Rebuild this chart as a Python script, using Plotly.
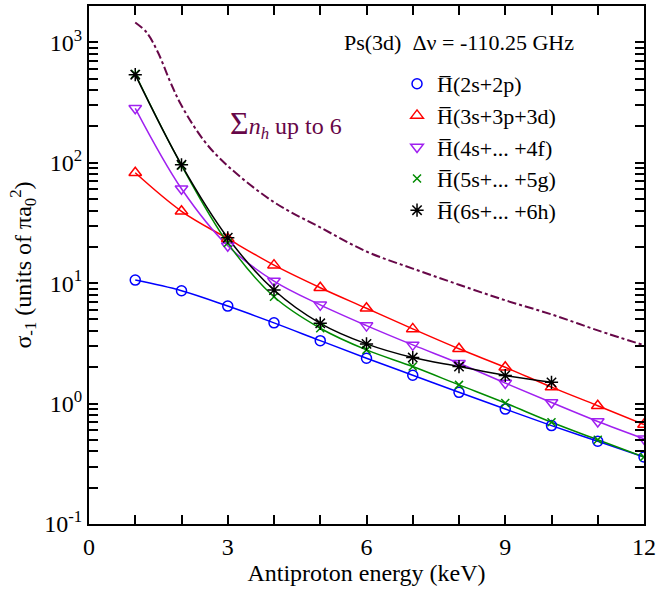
import plotly.graph_objects as go

# ---- data ----
energy = [1, 2, 3, 4, 5, 6, 7, 8, 9, 10, 11, 12]
energy_6h = [1, 2, 3, 4, 5, 6, 7, 8, 9, 10]

h2 = [10.6, 8.65, 6.45, 4.68, 3.33, 2.38, 1.72, 1.24, 0.90, 0.656, 0.486, 0.36]
h3 = [82.4, 39.5, 23.4, 14.1, 9.16, 6.18, 4.17, 2.85, 2.0, 1.37, 0.96, 0.67]
h4 = [283, 60.8, 20.4, 10.4, 6.6, 4.44, 3.07, 2.16, 1.48, 1.02, 0.71, 0.51]
h5 = [545, 95, 21.5, 7.7, 4.22, 2.79, 2.03, 1.43, 1.01, 0.70, 0.50, 0.36]
h6 = [538, 96, 23.8, 8.77, 4.64, 3.13, 2.41, 2.03, 1.71, 1.50]

sum_energy = [1, 1.25, 1.5, 1.75, 2, 2.5, 3, 4, 5, 6, 7, 8, 9, 10, 11, 12]
sum_nh = [1460, 1200, 810, 475, 298, 150, 94, 47, 29, 18.3, 13.2, 9.7, 7.2, 5.5, 4.05, 3.05]

names = ["(2s+2p)", "(3s+3p+3d)", "(4s+... +4f)", "(5s+... +5g)", "(6s+... +6h)"]
colors = ["#0000ff", "#ff0000", "#a020f0", "#008b00", "#000000"]
symbols = ["circle-open", "triangle-up-open", "triangle-down-open", "x-thin-open", "asterisk-open"]
msizes = [10, 11, 11, 8, 11]

# tick positions (labels only on the major ones)
x_ticks = [0, 1, 2, 3, 4, 5, 6, 7, 8, 9, 10, 11, 12]
x_ticktext = ["0", "", "", "3", "", "", "6", "", "", "9", "", "", "12"]
y_major = {0.1: "10<sup>-1</sup>", 1: "10<sup>0</sup>", 10: "10<sup>1</sup>",
           100: "10<sup>2</sup>", 1000: "10<sup>3</sup>"}
y_ticks = [k * 10.0 ** e for e in range(-1, 4) for k in range(1, 10) if k * 10.0 ** e <= 2000]
y_ticktext = [y_major.get(round(v, 6), "") for v in y_ticks]

FONT = "Liberation Serif"
MAROON = "#670748"

fig = go.Figure()

series = [(energy, h2), (energy, h3), (energy, h4), (energy, h5), (energy_6h, h6)]
# lines
for (xs, ys), c in zip(series, colors):
    fig.add_trace(go.Scatter(
        x=xs, y=ys, mode="lines", showlegend=False, hoverinfo="skip",
        line=dict(color=c, width=1.5, shape="spline", smoothing=1.0),
    ))

fig.add_trace(go.Scatter(
    x=sum_energy, y=sum_nh, mode="lines", showlegend=False,
    line=dict(color=MAROON, width=2, dash="dashdot", shape="spline"),
))

# markers (these also form the legend, markers only as in the reference)
for (xs, ys), n, c, s, ms in zip(series, names, colors, symbols, msizes):
    fig.add_trace(go.Scatter(
        x=xs, y=ys, mode="markers", name="H\u0305" + n,
        marker=dict(symbol=s, size=ms, color=c, line=dict(color=c, width=1.5)),
    ))

fig.update_xaxes(
    range=[0, 12], tickmode="array", tickvals=x_ticks, ticktext=x_ticktext,
    showline=True, linecolor="black", linewidth=2, mirror="ticks",
    ticks="inside", ticklen=9, tickwidth=2, tickcolor="black",
    showgrid=False, zeroline=False,
    tickfont=dict(family=FONT, size=24, color="black"),
    title=dict(text="Antiproton energy (keV)", font=dict(family=FONT, size=24, color="black"), standoff=2),
)
fig.update_yaxes(
    type="log", range=[-1, 3.301], tickmode="array", tickvals=y_ticks, ticktext=y_ticktext,
    showline=True, linecolor="black", linewidth=2, mirror="ticks",
    ticks="inside", ticklen=9, tickwidth=2, tickcolor="black",
    showgrid=False, zeroline=False,
    tickfont=dict(family=FONT, size=24, color="black"),
    title=dict(text="σ<sub>-1</sub> (units of πa<sub>0</sub><sup>2</sup>)",
               font=dict(family=FONT, size=24, color="black"), standoff=6),
)

fig.add_annotation(
    xref="paper", yref="paper", x=0.877, y=0.93, xanchor="right", yanchor="middle",
    text="Ps(3d)  Δν = -110.25 GHz", showarrow=False,
    font=dict(family=FONT, size=22, color="black"),
)
fig.add_annotation(
    xref="x", yref="paper", x=3.0, y=0.772, xanchor="left", yanchor="middle",
    text="<span style='font-size:32px'>Σ</span><i>n<sub>h</sub></i> up to 6", showarrow=False,
    font=dict(family=FONT, size=24, color=MAROON),
)

fig.update_layout(
    width=660, height=589,
    font=dict(family=FONT, size=22, color="black"),
    margin=dict(l=89, r=12, t=4, b=65),
    paper_bgcolor="white", plot_bgcolor="white",
    legend=dict(
        x=0.555, y=0.89, xanchor="left", yanchor="top",
        font=dict(family=FONT, size=22, color="black"),
        bgcolor="rgba(0,0,0,0)", tracegroupgap=0,
    ),
)

fig.write_html("out.html")
